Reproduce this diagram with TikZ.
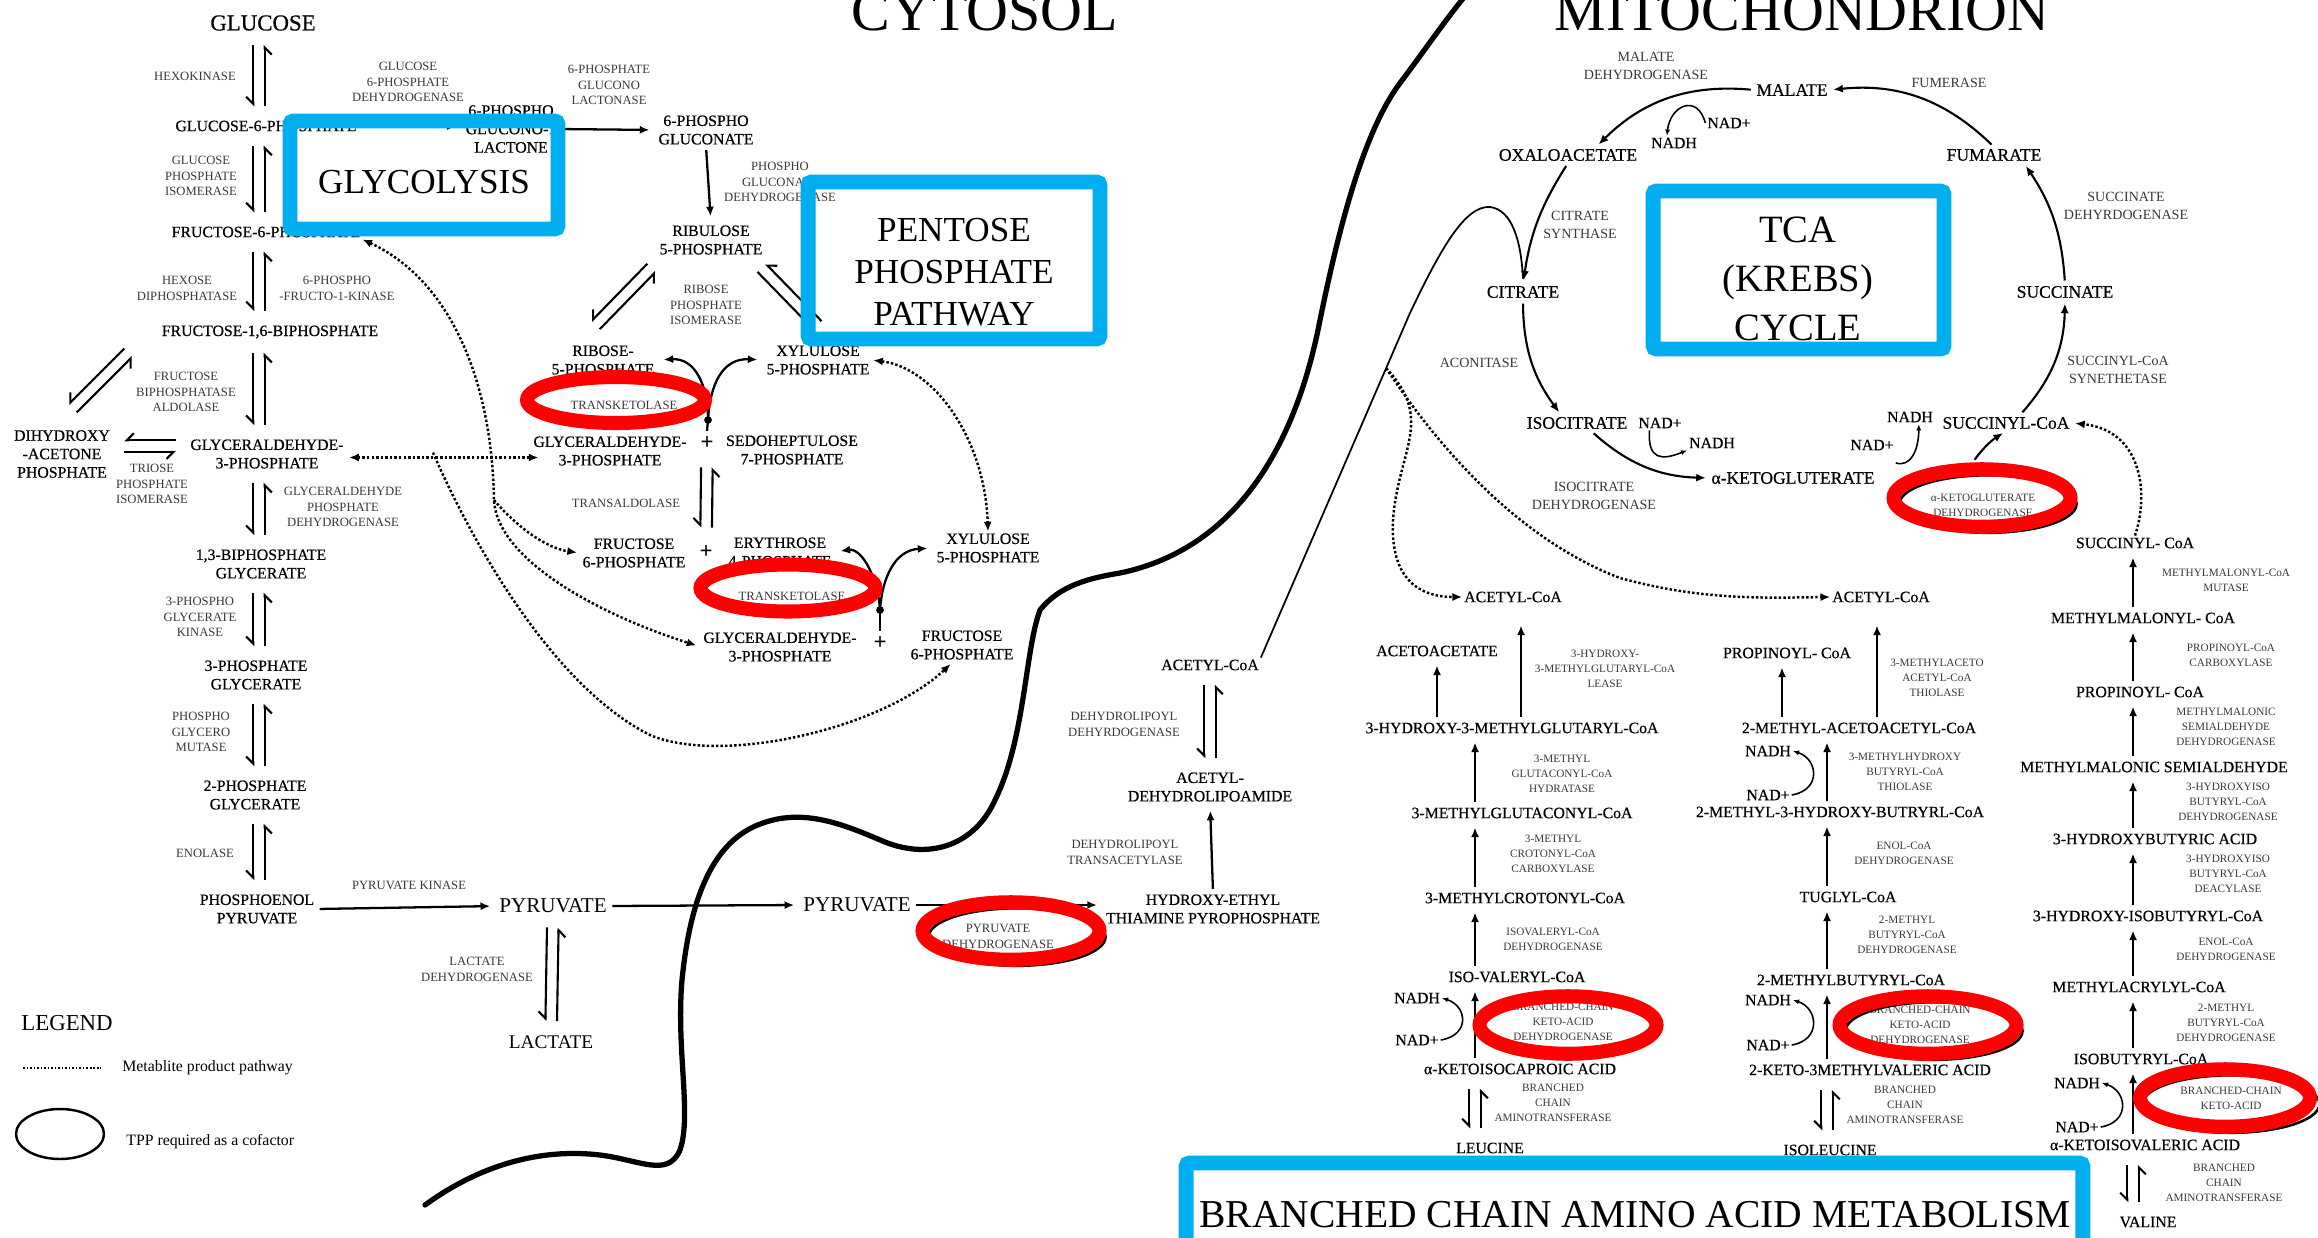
\documentclass[tikz,border=0pt]{standalone}
\usepackage{fontspec}
\setmainfont{Liberation Serif}
\newfontfamily\metfont{Liberation Serif}[FakeBold=0.5]
\usepackage{xcolor}
\usetikzlibrary{arrows.meta,calc,shapes.geometric,positioning}
\definecolor{Cyan}{HTML}{00AEEF}
\definecolor{TppRed}{HTML}{FF0000}
\newcommand\fsz[2]{\fontsize{#1}{#2}\selectfont}
% pair of half-headed arrows for a reversible step
\newcommand\revpair[2]{%
  \path #1 coordinate (rpA) #2 coordinate (rpB);
  \draw[revhalf] ($(rpA)!3.3pt!-90:(rpB)$) -- ($(rpB)!3.3pt!90:(rpA)$);
  \draw[revhalf] ($(rpB)!3.3pt!-90:(rpA)$) -- ($(rpA)!3.3pt!90:(rpB)$);}

\begin{document}
\begin{tikzpicture}[x=0.02cm,y=-0.02cm,
  >={Latex[length=5.5pt,width=4.6pt]},
  met/.style={font=\metfont\fsz{9}{10.5},align=center,inner sep=1pt},
  tcamet/.style={font=\metfont\fsz{10}{12},align=center,inner sep=1pt},
  enz/.style={font=\fsz{7.2}{9},align=center,inner sep=1pt,text=black!78},
  enzs/.style={font=\fsz{6.4}{8.6},align=center,inner sep=1pt,text=black!78},
  enzl/.style={font=\fsz{8}{10},align=center,inner sep=1pt,text=black!78},
  cof/.style={font=\metfont\fsz{9}{10},inner sep=1pt},
  plus/.style={font=\fsz{13}{13}\bfseries,inner sep=3pt},
  title/.style={font=\fsz{33}{36},inner sep=0pt,anchor=base},
  boxtext/.style={font=\fsz{20}{23.8},align=center,inner sep=0pt},
  cyanbox/.style={draw=Cyan,line width=8.5pt,rounded corners=2pt,inner sep=0pt},
  arr/.style={line width=1.3pt,->,shorten <=2pt,shorten >=4pt},
  tarr/.style={line width=1.2pt,->,shorten <=2pt,shorten >=2pt},
  nadarr/.style={line width=0.9pt,-{Latex[length=3.5pt,width=3pt]}},
  revhalf/.style={line width=1.2pt,-{Straight Barb[right,length=4pt,width=8pt]},shorten <=7pt,shorten >=7pt},
  dotarr/.style={line width=1.4pt,dash pattern=on 1.4pt off 1.2pt},
  membrane/.style={line width=3pt,line cap=round},
  tpp/.style={ellipse,draw=TppRed,line width=8pt,inner sep=0pt,minimum width=3.54cm,minimum height=1.15cm},
  tppshade/.style={ellipse,draw=black,line width=1.5pt,inner sep=0pt,minimum width=3.54cm,minimum height=1.15cm}]

\useasboundingbox (0,0) rectangle (2318,1237);
\clip (0,0) rectangle (2318,1237);

% membrane between cytosol and mitochondrion
\draw[membrane] (425,1205) .. controls (480,1165) and (540,1148) .. (600,1155)
  .. controls (640,1160) and (668,1178) .. (680,1150)
  .. controls (692,1115) and (676,1050) .. (682,980)
  .. controls (690,900) and (712,840) .. (763,823)
  .. controls (805,808) and (845,825) .. (885,842)
  .. controls (930,860) and (975,845) .. (995,800)
  .. controls (1025,740) and (1025,650) .. (1040,610)
  .. controls (1060,585) and (1090,578) .. (1120,573)
  .. controls (1240,548) and (1295,440) .. (1318,330)
  .. controls (1340,220) and (1365,130) .. (1400,83)
  .. controls (1425,50) and (1445,20) .. (1470,-10);

\node[title] (cyto) at (985,31) {CYTOSOL};
\node[title] (mito) at (1802,31) {MITOCHONDRION};

% glycolysis
\coordinate (gcol) at (259,0);
\node[met,font=\metfont\fsz{13}{14}] (glc) at (263,23) {GLUCOSE};
\node[met] (g6p) at (266,126) {GLUCOSE-6-PHOSPHATE};
\node[met] (f6pg) at (266,232) {FRUCTOSE-6-PHOSPHATE};
\node[met] (fbp) at (270,332) {FRUCTOSE-1,6-BIPHOSPHATE};
\node[met] (dhap) at (62,454) {DIHYDROXY\\-ACETONE\\PHOSPHATE};
\node[met] (gapg) at (267,454) {GLYCERALDEHYDE-\\3-PHOSPHATE};
\node[met] (bpg) at (261,564) {1,3-BIPHOSPHATE\\GLYCERATE};
\node[met] (pg3) at (256,675) {3-PHOSPHATE\\GLYCERATE};
\node[met] (pg2) at (255,795) {2-PHOSPHATE\\GLYCERATE};
\node[met] (pep) at (257,909) {PHOSPHOENOL\\PYRUVATE};
\node[met,font=\fsz{12}{14}] (pyrg) at (553,906) {PYRUVATE};
\node[met,font=\fsz{11}{13}] (lact) at (551,1042) {LACTATE};

\node[enz] (hk) at (195,76) {HEXOKINASE};
\node[enz] (gpi) at (201,176) {GLUCOSE\\PHOSPHATE\\ISOMERASE};
\node[enz] (fbpase) at (187,288) {HEXOSE\\DIPHOSPHATASE};
\node[enz] (pfk) at (337,288) {6-PHOSPHO\\-FRUCTO-1-KINASE};
\node[enz] (ald) at (186,392) {FRUCTOSE\\BIPHOSPHATASE\\ALDOLASE};
\node[enz] (tpi) at (152,484) {TRIOSE\\PHOSPHATE\\ISOMERASE};
\node[enz] (gapdh) at (343,507) {GLYCERALDEHYDE\\PHOSPHATE\\DEHYDROGENASE};
\node[enz] (pgk) at (200,617) {3-PHOSPHO\\GLYCERATE\\KINASE};
\node[enz] (pgm) at (201,732) {PHOSPHO\\GLYCERO\\MUTASE};
\node[enz] (eno) at (205,853) {ENOLASE};
\node[enz] (pk) at (409,885) {PYRUVATE KINASE};
\node[enz] (ldh) at (477,969) {LACTATE\\DEHYDROGENASE};

\revpair{(glc.south -| gcol)}{(g6p.north -| gcol)}
\revpair{(g6p.south -| gcol)}{(f6pg.north -| gcol)}
\revpair{(f6pg.south -| gcol)}{(fbp.north -| gcol)}
\revpair{(fbp.south -| gcol)}{(gapg.north -| gcol)}
\revpair{(gapg.south -| gcol)}{(bpg.north -| gcol)}
\revpair{(bpg.south -| gcol)}{(pg3.north -| gcol)}
\revpair{(pg3.south -| gcol)}{(pg2.north -| gcol)}
\revpair{(pg2.south -| gcol)}{(pep.north -| gcol)}
\coordinate (fbpd) at (137,344);
\coordinate (dhapd) at (64,417);
\revpair{(fbpd)}{(dhapd)}
\revpair{([yshift=4.5pt]gapg.west)}{([yshift=4.5pt]dhap.east)}
\revpair{(pyrg.south)}{(lact.north)}
\draw[arr] (pep.east) -- (pyrg.west);

% pentose phosphate pathway
\node[met] (pgl) at (511,129) {6-PHOSPHO\\GLUCONO-1\\LACTONE};
\node[met] (pg6) at (706,130) {6-PHOSPHO\\GLUCONATE};
\node[met] (ru5p) at (711,240) {RIBULOSE\\5-PHOSPHATE};
\node[met] (r5p) at (603,360) {RIBOSE-\\5-PHOSPHATE};
\node[met] (x5pt) at (818,360) {XYLULOSE\\5-PHOSPHATE};
\node[met] (gapm) at (610,451) {GLYCERALDEHYDE-\\3-PHOSPHATE};
\node[met] (s7p) at (792,450) {SEDOHEPTULOSE\\7-PHOSPHATE};
\node[met] (f6pm) at (634,553) {FRUCTOSE\\6-PHOSPHATE};
\node[met] (e4p) at (780,552) {ERYTHROSE\\4-PHOSPHATE};
\node[met] (x5pl) at (988,548) {XYLULOSE\\5-PHOSPHATE};
\node[met] (gapl) at (780,647) {GLYCERALDEHYDE-\\3-PHOSPHATE};
\node[met] (f6pl) at (962,645) {FRUCTOSE\\6-PHOSPHATE};
\node[plus] (plus1) at (707,443) {+};
\node[plus] (plus2) at (706,552) {+};
\node[plus] (plus3) at (880,643) {+};

\node[enz] (g6pd) at (408,82) {GLUCOSE\\6-PHOSPHATE\\DEHYDROGENASE};
\node[enz] (pgln) at (609,85) {6-PHOSPHATE\\GLUCONO\\LACTONASE};
\node[enz] (pgd) at (780,182) {PHOSPHO\\GLUCONATE\\DEHYDROGENASE};
\node[enz] (rpi) at (706,305) {RIBOSE\\PHOSPHATE\\ISOMERASE};
\node[enz] (tk1) at (624,405) {TRANSKETOLASE};
\node[enz] (tald) at (626,503) {TRANSALDOLASE};
\node[enz] (tk2) at (792,596) {TRANSKETOLASE};

\draw[arr] (g6p.east) -- (pgl.west |- g6p.east);
\draw[arr] (pgl.east) -- (pg6.west);
\draw[arr] (pg6.south) -- (ru5p.north);
\coordinate (ru5pl) at (660,259);
\coordinate (r5pd) at (587,334);
\coordinate (ru5pr) at (753,259);
\coordinate (x5pd) at (826,334);
\revpair{(ru5pl)}{(r5pd)}
\revpair{(ru5pr)}{(x5pd)}
\revpair{(plus1.south)}{(plus2.north)}

\coordinate (tkj1) at (708,420);
\coordinate (tkj2) at (880,610);
\fill (tkj1) circle (2.2pt);
\fill (tkj2) circle (2.2pt);
\draw[line width=1.3pt] (tkj1) -- (plus1.north);
\draw[line width=1.3pt] (tkj2) -- (plus3.north);
\draw[arr,shorten <=0pt] (tkj1) .. controls (708,385) and (695,358) .. (r5p.east);
\draw[arr,shorten <=0pt] (tkj1) .. controls (710,385) and (722,358) .. (x5pt.west);
\draw[arr,shorten <=0pt] (tkj2) .. controls (878,578) and (862,548) .. (e4p.east);
\draw[arr,shorten <=0pt] (tkj2) .. controls (882,578) and (895,550) .. (x5pl.west);

% metabolite product pathways (dotted)
\draw[dotarr,<->,shorten <=2pt,shorten >=-4pt] ([yshift=-2pt]gapg.east) -- ([yshift=-2pt]gapg.east -| gapm.west);
\coordinate (gj) at ($(gapg.east)!0.47!(gapm.west)$);
\coordinate (fj) at (494,500);
\draw[dotarr,<->,shorten >=3pt] (f6pg.south east) .. controls (450,280) and (492,380) .. (fj)
  .. controls (497,560) and (600,615) .. (gapl.west);
\draw[dotarr,->,shorten >=2pt] (fj) .. controls (515,525) and (545,548) .. (f6pm.west);
\draw[dotarr,->,shorten >=2pt] (gj) .. controls (480,560) and (560,690) .. (650,735)
  .. controls (720,765) and (880,730) .. ([xshift=-5pt]f6pl.south);
\draw[dotarr,<->,shorten <=1pt] (x5pt.east) .. controls (935,368) and (985,440) .. (x5pl.north);

% pyruvate into the mitochondrion
\node[met,font=\fsz{12}{14}] (pyrm) at (857,905) {PYRUVATE};
\node[enz] (pdh) at (998,936) {PYRUVATE\\DEHYDROGENASE};
\node[met] (hetpp) at (1213,909) {HYDROXY-ETHYL\\THIAMINE PYROPHOSPHATE};
\node[met] (adl) at (1210,787) {ACETYL-\\DEHYDROLIPOAMIDE};
\node[met] (acoa1) at (1210,665) {ACETYL-CoA};
\node[enz] (dld) at (1124,724) {DEHYDROLIPOYL\\DEHYRDOGENASE};
\node[enz] (dlt) at (1125,852) {DEHYDROLIPOYL\\TRANSACETYLASE};
\draw[arr] (pyrg.east) -- (pyrm.west);
\draw[arr] (pyrm.east) -- (pyrm.east -| hetpp.west);
\draw[arr] (hetpp.north) -- (adl.south);
\revpair{(acoa1.south)}{(adl.north)}

% TCA cycle
\node[tcamet] (mal) at (1792,90) {MALATE};
\node[tcamet] (oaa) at (1568,155) {OXALOACETATE};
\node[tcamet] (fum) at (1994,155) {FUMARATE};
\node[tcamet] (cit) at (1523,292) {CITRATE};
\node[tcamet] (suc) at (2065,292) {SUCCINATE};
\node[tcamet] (iso) at (1577,423) {ISOCITRATE};
\node[tcamet] (akg) at (1793,478) {α-KETOGLUTERATE};
\node[tcamet] (succoa1) at (2006,423) {SUCCINYL-CoA};
\node[cof] (nadp1) at (1729,123) {NAD+};
\node[cof] (nadh1) at (1674,143) {NADH};
\node[cof] (nadp2) at (1660,423) {NAD+};
\node[cof] (nadh2) at (1712,443) {NADH};
\node[cof] (nadp3) at (1872,445) {NAD+};
\node[cof] (nadh3) at (1910,417) {NADH};
\node[enzl] (mdh) at (1646,66) {MALATE\\DEHYDROGENASE};
\node[enzl] (fumase) at (1949,83) {FUMERASE};
\node[enzl] (cs) at (1580,225) {CITRATE\\SYNTHASE};
\node[enzl] (aco) at (1479,363) {ACONITASE};
\node[enzl] (idh) at (1594,496) {ISOCITRATE\\DEHYDROGENASE};
\node[enzl] (sdh) at (2126,206) {SUCCINATE\\DEHYRDOGENASE};
\node[enzl] (scs) at (2118,370) {SUCCINYL-CoA\\SYNETHETASE};
\node[enzs] (kgdhl) at (1983,505) {α-KETOGLUTERATE\\DEHYDROGENASE};

\draw[tarr] (oaa.south) to[bend right=12] (cit.north);
\draw[tarr] (cit.south) to[bend right=18] ([xshift=-9pt]iso.north);
\draw[tarr] ([xshift=8pt]iso.south) to[bend right=20] (akg.west);
\draw[tarr] ([xshift=8pt]succoa1.north) to[bend right=20] (suc.south);
\draw[tarr] (suc.north) to[bend right=15] ([xshift=17pt]fum.south);
\draw[tarr] (fum.north) to[bend right=25] (mal.east);
\draw[tarr] (mal.west) to[bend right=25] ([xshift=16pt]oaa.north);
\draw[nadarr] (nadp1.west) .. controls +(-8,-30) and +(3,-30) .. ([xshift=-4pt]nadh1.north);
\draw[nadarr] ([xshift=-6pt]nadp2.south) .. controls +(-2,30) and +(-25,10) .. (nadh2.south west);
\draw[nadarr] ([yshift=-6pt]nadp3.south east) .. controls +(15,5) and +(0,25) .. ([xshift=5pt]nadh3.south);

% acetyl-CoA feeding citrate
\coordinate (acbend) at (1410,313);
\coordinate (jac) at ($(acoa1.north east)!0.84!(acbend)$);
\draw[line width=1pt] (acoa1.north east) -- (acbend) .. controls (1440,250) and (1465,205) .. (1490,207)
  .. controls (1512,210) and (1521,240) .. ([yshift=3pt]cit.north);

% branched chain amino acids
\coordinate (cL) at (1475,0);
\coordinate (cLa) at (1437,0);
\coordinate (cLb) at (1521,0);
\coordinate (cM) at (1827,0);
\coordinate (cMa) at (1782,0);
\coordinate (cMb) at (1877,0);
\coordinate (cR) at (2133,0);

\node[met] (acoa2) at (1513,597) {ACETYL-CoA};
\node[met] (aca) at (1437,651) {ACETOACETATE};
\node[met] (hmgcoa) at (1512,728) {3-HYDROXY-3-METHYLGLUTARYL-CoA};
\node[met] (mgc) at (1522,813) {3-METHYLGLUTACONYL-CoA};
\node[met] (mcc) at (1525,898) {3-METHYLCROTONYL-CoA};
\node[met] (ivcoa) at (1517,977) {ISO-VALERYL-CoA};
\node[met] (kic) at (1520,1069) {α-KETOISOCAPROIC ACID};
\node[met] (leu) at (1490,1148) {LEUCINE};
\node[cof] (nadh4) at (1417,998) {NADH};
\node[cof] (nadp4) at (1417,1040) {NAD+};
\node[enzs] (hmgl) at (1605,669) {3-HYDROXY-\\3-METHYLGLUTARYL-CoA\\LEASE};
\node[enzs] (mgch) at (1562,774) {3-METHYL\\GLUTACONYL-CoA\\HYDRATASE};
\node[enzs] (mccc) at (1553,854) {3-METHYL\\CROTONYL-CoA\\CARBOXYLASE};
\node[enzs] (ivd) at (1553,939) {ISOVALERYL-CoA\\DEHYDROGENASE};
\node[enzs] (bckd1) at (1563,1022) {BRANCHED-CHAIN\\KETO-ACID\\DEHYDROGENASE};
\node[enzs] (bcat1) at (1553,1103) {BRANCHED\\CHAIN\\AMINOTRANSFERASE};

\node[met] (acoa3) at (1881,597) {ACETYL-CoA};
\node[met] (pcoa2) at (1787,653) {PROPINOYL- CoA};
\node[met] (macoa) at (1859,728) {2-METHYL-ACETOACETYL-CoA};
\node[met] (m3hb) at (1840,812) {2-METHYL-3-HYDROXY-BUTRYRL-CoA};
\node[met] (tig) at (1848,897) {TUGLYL-CoA};
\node[met] (mbcoa) at (1851,980) {2-METHYLBUTYRYL-CoA};
\node[met] (kmv) at (1870,1070) {2-KETO-3METHYLVALERIC ACID};
\node[met] (ile) at (1830,1150) {ISOLEUCINE};
\node[cof] (nadh5) at (1768,751) {NADH};
\node[cof] (nadp5) at (1768,795) {NAD+};
\node[cof] (nadh6) at (1768,1000) {NADH};
\node[cof] (nadp6) at (1768,1045) {NAD+};
\node[enzs] (mact) at (1937,678) {3-METHYLACETO\\ACETYL-CoA\\THIOLASE};
\node[enzs] (mhbt) at (1905,772) {3-METHYLHYDROXY\\BUTYRYL-CoA\\THIOLASE};
\node[enzs] (ech1) at (1904,853) {ENOL-CoA\\DEHYDROGENASE};
\node[enzs] (mbd1) at (1907,935) {2-METHYL\\BUTYRYL-CoA\\DEHYDROGENASE};
\node[enzs] (bckd2) at (1920,1025) {BRANCHED-CHAIN\\KETO-ACID\\DEHYDROGENASE};
\node[enzs] (bcat2) at (1905,1105) {BRANCHED\\CHAIN\\AMINOTRANSFERASE};

\node[met] (succoa2) at (2135,543) {SUCCINYL- CoA};
\node[met] (mmcoa) at (2143,618) {METHYLMALONYL- CoA};
\node[met] (pcoa3) at (2140,692) {PROPINOYL- CoA};
\node[met] (mmsa) at (2154,767) {METHYLMALONIC SEMIALDEHYDE};
\node[met] (hba) at (2155,839) {3-HYDROXYBUTYRIC ACID};
\node[met] (hibcoa) at (2148,916) {3-HYDROXY-ISOBUTYRYL-CoA};
\node[met] (macr) at (2139,987) {METHYLACRYLYL-CoA};
\node[met] (ibcoa) at (2141,1059) {ISOBUTYRYL-CoA};
\node[met] (kiv) at (2145,1145) {α-KETOISOVALERIC ACID};
\node[met] (val) at (2148,1222) {VALINE};
\node[cof] (nadh7) at (2077,1083) {NADH};
\node[cof] (nadp7) at (2077,1127) {NAD+};
\node[enzs] (mcm) at (2226,580) {METHYLMALONYL-CoA\\MUTASE};
\node[enzs] (pcc) at (2231,655) {PROPINOYL-CoA\\CARBOXYLASE};
\node[enzs] (mmsd) at (2226,727) {METHYLMALONIC\\SEMIALDEHYDE\\DEHYDROGENASE};
\node[enzs] (hibd) at (2228,802) {3-HYDROXYISO\\BUTYRYL-CoA\\DEHYDROGENASE};
\node[enzs] (hibch) at (2228,874) {3-HYDROXYISO\\BUTYRYL-CoA\\DEACYLASE};
\node[enzs] (ech2) at (2226,949) {ENOL-CoA\\DEHYDROGENASE};
\node[enzs] (mbd2) at (2226,1023) {2-METHYL\\BUTYRYL-CoA\\DEHYDROGENASE};
\node[enzs] (bckd3) at (2231,1098) {BRANCHED-CHAIN\\KETO-ACID};
\node[enzs] (bcat3) at (2224,1183) {BRANCHED\\CHAIN\\AMINOTRANSFERASE};

\draw[arr] (hmgcoa.north -| cLa) -- (aca.south -| cLa);
\draw[arr,shorten >=12pt] (hmgcoa.north -| cLb) -- (acoa2.south -| cLb);
\draw[arr] (mgc.north -| cL) -- (hmgcoa.south -| cL);
\draw[arr] (mcc.north -| cL) -- (mgc.south -| cL);
\draw[arr] (ivcoa.north -| cL) -- (mcc.south -| cL);
\draw[arr] (kic.north -| cL) -- (ivcoa.south -| cL);
\revpair{(kic.south -| cL)}{(leu.north -| cL)}

\draw[arr] (macoa.north -| cMa) -- (pcoa2.south -| cMa);
\draw[arr,shorten >=12pt] (macoa.north -| cMb) -- (acoa3.south -| cMb);
\draw[arr] (m3hb.north -| cM) -- (macoa.south -| cM);
\draw[arr] (tig.north -| cM) -- (m3hb.south -| cM);
\draw[arr] (mbcoa.north -| cM) -- (tig.south -| cM);
\draw[arr] (kmv.north -| cM) -- (mbcoa.south -| cM);
\revpair{(kmv.south -| cM)}{(ile.north -| cM)}

\draw[arr] (mmcoa.north -| cR) -- (succoa2.south -| cR);
\draw[arr] (pcoa3.north -| cR) -- (mmcoa.south -| cR);
\draw[arr] (mmsa.north -| cR) -- (pcoa3.south -| cR);
\draw[arr] (hba.north -| cR) -- (mmsa.south -| cR);
\draw[arr] (hibcoa.north -| cR) -- (hba.south -| cR);
\draw[arr] (macr.north -| cR) -- (hibcoa.south -| cR);
\draw[arr] (ibcoa.north -| cR) -- (macr.south -| cR);
\draw[arr] (kiv.north -| cR) -- (ibcoa.south -| cR);
\revpair{(kiv.south -| cR)}{(val.north -| cR)}

\draw[nadarr] (nadp4.east) .. controls +(30,-5) and +(25,8) .. (nadh4.east);
\draw[nadarr] (nadp5.east) .. controls +(30,-5) and +(25,8) .. (nadh5.east);
\draw[nadarr] (nadp6.east) .. controls +(30,-5) and +(25,8) .. (nadh6.east);
\draw[nadarr] (nadp7.east) .. controls +(30,-5) and +(25,8) .. (nadh7.east);

\draw[dotarr,->] (jac) .. controls (1435,420) and (1398,450) .. (1393,520)
  .. controls (1390,580) and (1420,597) .. (acoa2.west);
\draw[dotarr,->] (jac) .. controls (1440,450) and (1520,540) .. (1620,578)
  .. controls (1700,600) and (1760,598) .. (acoa3.west);
\draw[dotarr,->,shorten >=2pt] (succoa2.north) .. controls (2150,490) and (2140,430) .. (succoa1.east);

% pathway boxes
\node[boxtext] (glytxt) at (424,182) {GLYCOLYSIS};
\node[boxtext] (ppptxt) at (954,272) {PENTOSE\\PHOSPHATE\\PATHWAY};
\node[boxtext,font=\fsz{22}{27.8}] (tcatxt) at (1798,279) {TCA\\(KREBS)\\CYCLE};
\node[boxtext,font=\fsz{22.5}{26}] (bcaatxt) at (1635,1215) {BRANCHED CHAIN AMINO ACID METABOLISM};
\node[cyanbox,minimum width=5.36cm,minimum height=2.16cm] (glybox) at (424,175) {};
\node[cyanbox,minimum width=5.84cm,minimum height=3.14cm] (pppbox) at (954,260.5) {};
\node[cyanbox,minimum width=5.82cm,minimum height=3.16cm] (tcabox) at (1798.5,270) {};
\node[cyanbox,minimum width=17.94cm,minimum height=2.54cm] (bcaabox) at (1634.5,1226.5) {};

% TPP dependent enzymes
\node[tppshade] (pdhs) at (1017,937) {};
\node[tppshade] (kgs) at (1988,504) {};
\node[tppshade] (bck2s) at (1934,1031) {};
\node[tppshade] (bck3s) at (2231,1104) {};
\node[tpp,minimum width=3.56cm,minimum height=0.92cm] (tkring1) at (616,400) {};
\node[tpp,minimum width=3.5cm,minimum height=0.94cm] (tkring2) at (788,588) {};
\node[tpp] (pdhring) at (1011,931) {};
\node[tpp] (kgring) at (1982,498) {};
\node[tpp] (bckring1) at (1568,1025) {};
\node[tpp] (bckring2) at (1928,1025) {};
\node[tpp,minimum width=3.4cm] (bckring3) at (2225,1098) {};
\draw[tarr] (kgring.105) to[bend left=10] (succoa1.south);

% legend
\node[font=\fsz{13}{14},anchor=west,inner sep=0pt] (leg) at (21,1023) {LEGEND};
\coordinate (legd1) at (23,1068);
\coordinate (legd2) at (101,1068);
\draw[line width=1pt,dash pattern=on 1pt off 1pt] (legd1) -- (legd2);
\node[font=\fsz{9}{10},anchor=west,inner sep=0pt] (legdot) at (122,1068) {Metablite product pathway};
\node[ellipse,draw,line width=1.4pt,minimum width=1.76cm,minimum height=1cm,inner sep=0pt] (legring) at (60,1134) {};
\node[font=\fsz{9}{10},anchor=west,inner sep=0pt] (legtpp) at (126,1142) {TPP required as a cofactor};
\end{tikzpicture}
\end{document}
